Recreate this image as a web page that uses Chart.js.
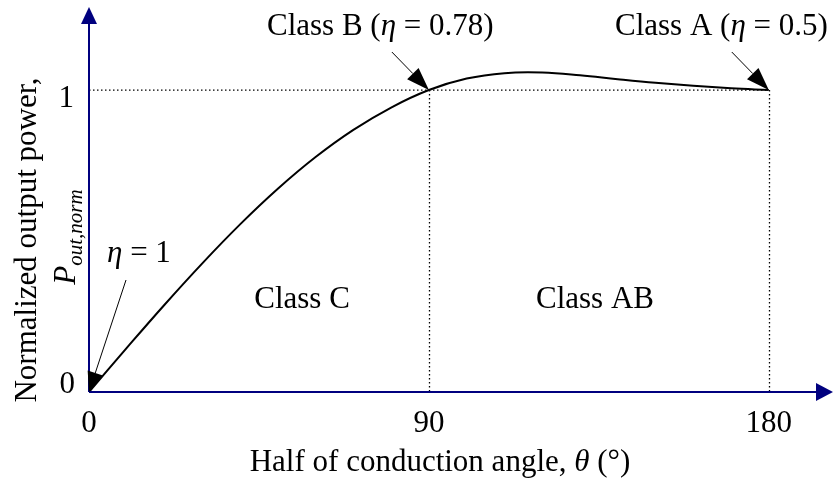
<!DOCTYPE html>
<html>
<head>
<meta charset="utf-8">
<script src="https://cdn.jsdelivr.net/npm/chart.js@4.4.0/dist/chart.umd.min.js"></script>
<style>
  html, body { margin: 0; padding: 0; background: #fff; }
</style>
</head>
<body>
<canvas id="grafico" width="836" height="480"></canvas>
<script>

// meio angulo de conducao (graus) e potencia de saida normalizada
var angulos  = [0, 10, 20, 30, 40, 50, 60, 70, 80, 90, 100, 110, 120, 130, 140, 150, 160, 170, 180];
var potencia = [0, 0.146, 0.289, 0.426, 0.555, 0.673, 0.778, 0.868, 0.942, 1.0, 1.038, 1.056, 1.058, 1.049, 1.036, 1.024, 1.014, 1.006, 1.0];

var ticksX = [0, 90, 180];
var ticksY = [0, 1];
var classeB = [90, 1];
var classeA = [180, 1];

var FONTE = '"Liberation Serif", "Times New Roman", serif';
var TAM = 31;
var AZUL = '#00007f';

function fonte(p) {
    return (p.i ? 'italic ' : '') + (p.s || TAM) + 'px ' + FONTE;
}

// escreve um texto em pedacos (normal / italico / subscrito)
function escreve(ctx, partes, x, y, alinhamento) {
    var total = 0;
    partes.forEach(function(p) {
        ctx.font = fonte(p);
        total += ctx.measureText(p.t).width;
    });
    var cx = alinhamento == 'center' ? x - total / 2 : x;
    ctx.textAlign = 'left';
    ctx.textBaseline = 'alphabetic';
    partes.forEach(function(p) {
        ctx.font = fonte(p);
        ctx.fillText(p.t, cx, y + (p.dy || 0));
        cx += ctx.measureText(p.t).width;
    });
}

function seta(ctx, x0, y0, x1, y1, comp, larg, cor, espessura) {
    var dx = x1 - x0, dy = y1 - y0;
    var d = Math.sqrt(dx * dx + dy * dy);
    var ux = dx / d, uy = dy / d;
    var bx = x1 - ux * comp, by = y1 - uy * comp;
    ctx.strokeStyle = cor;
    ctx.fillStyle = cor;
    ctx.lineWidth = espessura;
    ctx.beginPath();
    ctx.moveTo(x0, y0);
    ctx.lineTo(bx, by);
    ctx.stroke();
    ctx.beginPath();
    ctx.moveTo(x1, y1);
    ctx.lineTo(bx - uy * larg, by + ux * larg);
    ctx.lineTo(bx + uy * larg, by - ux * larg);
    ctx.closePath();
    ctx.fill();
}

var eixosPlugin = {
    id: 'eixos',
    beforeDatasetsDraw: function(chart) {
        var ctx = chart.ctx;
        var sx = chart.scales.x, sy = chart.scales.y;
        var x0 = sx.getPixelForValue(0), y0 = sy.getPixelForValue(0);
        var y1 = sy.getPixelForValue(1);

        // linhas pontilhadas de referencia
        ctx.save();
        ctx.strokeStyle = '#000';
        ctx.lineWidth = 1.3;
        ctx.setLineDash([1.5, 2.5]);
        ctx.beginPath();
        ctx.moveTo(x0, y1);
        ctx.lineTo(sx.getPixelForValue(classeA[0]), y1);
        [classeB[0], classeA[0]].forEach(function(v) {
            var px = Math.round(sx.getPixelForValue(v)) + 0.5;
            ctx.moveTo(px, y1);
            ctx.lineTo(px, y0);
        });
        ctx.stroke();
        ctx.restore();
    },
    afterDatasetsDraw: function(chart) {
        var ctx = chart.ctx;
        var area = chart.chartArea;
        var sx = chart.scales.x, sy = chart.scales.y;
        var x0 = sx.getPixelForValue(0), y0 = sy.getPixelForValue(0);

        ctx.save();
        // eixos com setas
        seta(ctx, x0, y0, x0, area.top, 17, 8, AZUL, 2);
        seta(ctx, x0, y0, area.right, y0, 17, 9, AZUL, 2);

        ctx.fillStyle = '#000';
        ticksX.forEach(function(v) {
            escreve(ctx, [{ t: String(v) }], sx.getPixelForValue(v), 432, 'center');
        });
        ctx.textAlign = 'right';
        ctx.font = TAM + 'px ' + FONTE;
        ctx.fillText(String(ticksY[1]), x0 - 15, sy.getPixelForValue(ticksY[1]) + 17);
        ctx.fillText(String(ticksY[0]), x0 - 14, sy.getPixelForValue(ticksY[0]) + 1);

        // titulo do eixo x
        escreve(ctx, [
            { t: 'Half of conduction angle, ' },
            { t: '\u03b8', i: true },
            { t: ' (\u00b0)' }
        ], 440, 471, 'center');

        // titulo do eixo y (duas linhas, rotacionado)
        ctx.save();
        ctx.translate(36, 240);
        ctx.rotate(-Math.PI / 2);
        escreve(ctx, [{ t: 'Normalized output power,' }], 0, 0, 'center');
        ctx.restore();
        ctx.save();
        ctx.translate(75, 237);
        ctx.rotate(-Math.PI / 2);
        escreve(ctx, [
            { t: 'P', i: true },
            { t: 'out,norm', i: true, s: 21, dy: 7 }
        ], 0, 0, 'center');
        ctx.restore();

        // anotacoes
        var bx = sx.getPixelForValue(classeB[0]), by = sy.getPixelForValue(classeB[1]);
        var ax = sx.getPixelForValue(classeA[0]), ay = sy.getPixelForValue(classeA[1]);
        seta(ctx, bx - 37, by - 38, bx, by, 23, 8, '#000', 1);
        seta(ctx, ax - 37, ay - 38, ax, ay, 23, 8, '#000', 1);
        seta(ctx, x0 + 37, y0 - 112, x0, y0, 20, 8, '#000', 1);

        ctx.fillStyle = '#000';
        escreve(ctx, [
            { t: 'Class B (' }, { t: '\u03b7', i: true }, { t: ' = 0.78)' }
        ], 267, 35, 'left');
        escreve(ctx, [
            { t: 'Class A (' }, { t: '\u03b7', i: true }, { t: ' = 0.5)' }
        ], 615, 35, 'left');
        escreve(ctx, [
            { t: '\u03b7', i: true }, { t: ' = 1' }
        ], 107, 262, 'left');

        escreve(ctx, [{ t: 'Class C' }], 302, 308, 'center');
        escreve(ctx, [{ t: 'Class AB' }], 595, 308, 'center');
        ctx.restore();
    }
};

var pontos = angulos.map(function(a, i) {
    return { x: a, y: potencia[i] };
});

var grafico = new Chart(document.getElementById('grafico'), {
    type: 'line',
    data: {
        datasets: [{
            data: pontos,
            borderColor: '#000',
            borderWidth: 2,
            pointRadius: 0,
            fill: false,
            tension: 0.4
        }]
    },
    options: {
        responsive: false,
        animation: false,
        layout: {
            padding: { left: 89, right: 3, top: 7, bottom: 88 }
        },
        plugins: {
            legend: { display: false },
            tooltip: { enabled: false }
        },
        scales: {
            x: { type: 'linear', min: 0, max: 197, display: false },
            y: { type: 'linear', min: 0, max: 1.275, display: false }
        }
    },
    plugins: [eixosPlugin]
});
</script>
</body>
</html>
